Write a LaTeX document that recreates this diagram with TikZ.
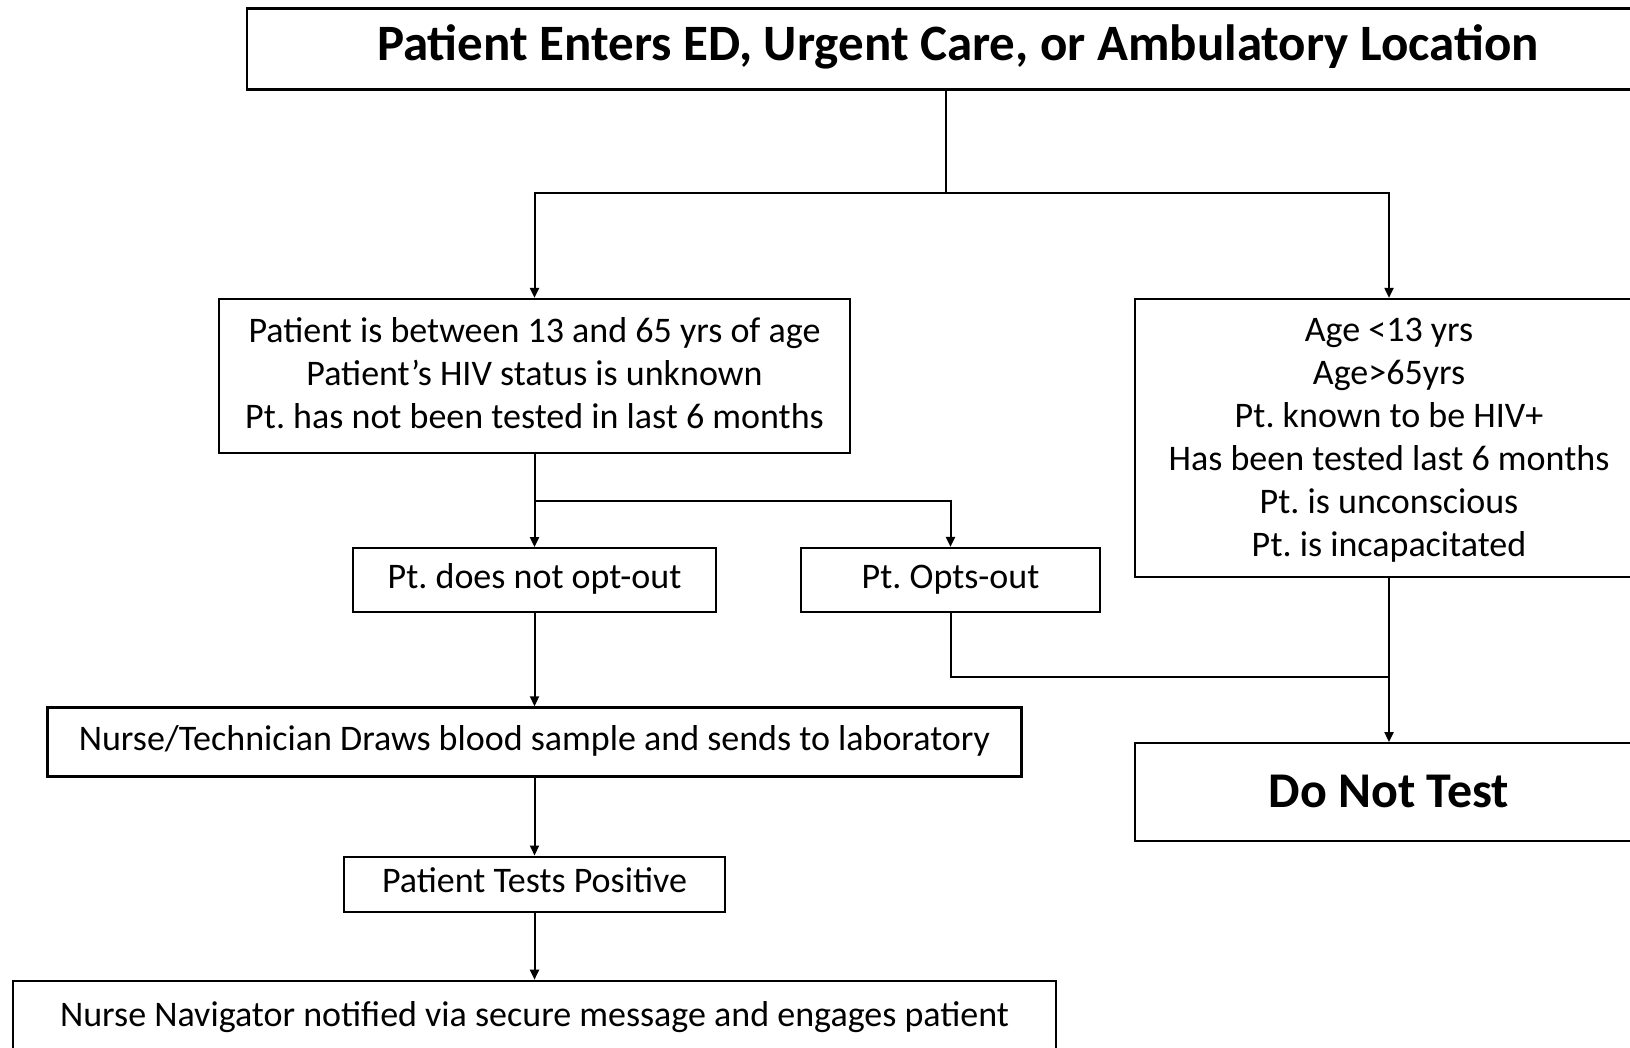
\documentclass[tikz,border=0pt]{standalone}
\usepackage{fontspec}
\setmainfont{Carlito}
\usepackage{tikz}
\usetikzlibrary{arrows.meta, positioning}
\tikzstyle{arrow} = [-{Triangle[length=10pt, width=9pt]}, line width=2pt, color=black]
\newcommand{\liftline}[1]{\rule{0pt}{#1}}
\frenchspacing

\begin{document}
\begin{tikzpicture}[
    x=1pt, y=1pt,
    stepbox/.style={rectangle, draw=black, line width=2.2pt, align=center,
                    inner sep=0pt, font=\fontsize{36}{43}\selectfont,
                    execute at begin node=\strut, execute at end node=\strut},
    lifttext/.style={execute at begin node={\rule{0pt}{#1}}},
    titlebox/.style={stepbox, font=\fontsize{51}{60}\selectfont\bfseries}
]
    \useasboundingbox (0,0) rectangle (1630,-1048);
    \clip (0,0) rectangle (1630,-1048);

    % Top: entry point
    \node[titlebox, minimum width=1422pt, minimum height=81pt] (root) at (958,-49)
        {Patient Enters ED, Urgent Care, or Ambulatory Location};

    % Row 2: eligible / excluded
    \node[stepbox, minimum width=631pt, minimum height=154pt] (elig) at (534.5,-376)
        {\liftline{32.5pt}Patient is between 13 and 65 yrs of age\\
         Patient’s HIV status is unknown\\
         Pt. has not been tested in last 6 months};
    \node[stepbox, minimum width=508pt, minimum height=278pt] (excl) at (1389,-438)
        {\liftline{34pt}Age <13 yrs\\ Age>65yrs\\ Pt. known to be HIV+\\
         Has been tested last 6 months\\ Pt. is unconscious\\ Pt. is incapacitated};

    % Row 3: opt-out choice
    \node[stepbox, minimum width=363pt, minimum height=64pt, below=93pt of elig] (optin)
        {Pt. does not opt-out};
    \node[stepbox, minimum width=299pt, minimum height=64pt] (optout) at (950.5,-580)
        {Pt. Opts-out};

    % Left column: testing
    \node[stepbox, minimum width=974pt, minimum height=69pt, below=93pt of optin] (draw)
        {Nurse/Technician Draws blood sample and sends to laboratory};
    \node[stepbox, minimum width=381pt, minimum height=55pt, below=78pt of draw] (pos)
        {Patient Tests Positive};
    \node[stepbox, lifttext=34pt, minimum width=1043pt, minimum height=70pt, below=67pt of pos] (nav)
        {Nurse Navigator notified via secure message and engages patient};

    % Right column: no test
    \node[titlebox, lifttext=47pt, minimum width=508pt, minimum height=98pt, below=164pt of excl,
          font=\fontsize{50}{58}\selectfont\bfseries] (dnt) {Do Not Test};

    % Forks
    \coordinate (fork) at (946,-193);
    \coordinate[below=47pt of elig.south] (optfork);
    \coordinate (merge) at (excl.south |- 0,-677);

    % Arrows
    \draw[line width=2pt] (fork |- root.south) -- (fork);
    \draw[arrow] (fork) -| (elig.north);
    \draw[arrow] (fork) -| (excl.north);
    \draw[arrow] (elig.south) -- (optin.north);
    \draw[arrow] (optfork) -| (optout.north);
    \draw[arrow] (optin.south) -- (draw.north);
    \draw[line width=2pt] (optout.south) |- (merge);
    \draw[arrow] (excl.south) -- (dnt.north);
    \draw[arrow] (draw.south) -- (pos.north);
    \draw[arrow] (pos.south) -- (nav.north);

\end{tikzpicture}
\end{document}
